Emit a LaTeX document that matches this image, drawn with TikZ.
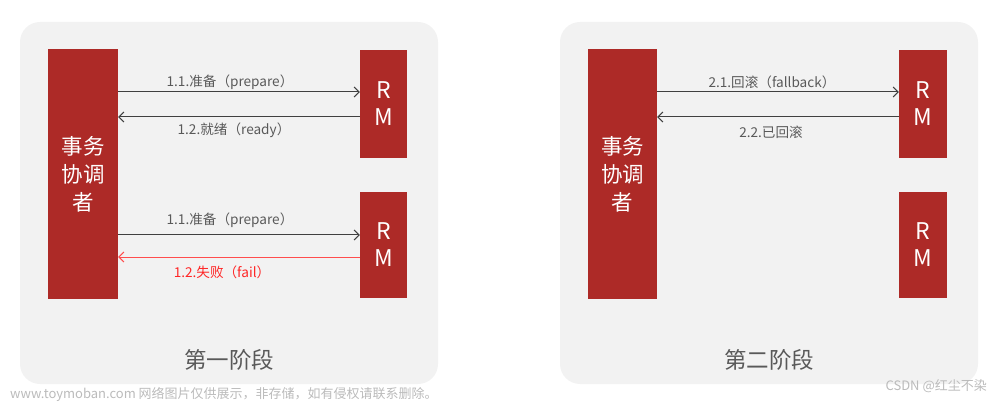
\documentclass[tikz,border=0pt]{standalone}
\usepackage{fontspec}
\setmainfont{Noto Sans CJK SC}
\newfontfamily\cjk{Noto Sans CJK SC}
\usetikzlibrary{arrows.meta}
\definecolor{boxred}{HTML}{AD2A27}
\definecolor{panelbg}{HTML}{F2F2F2}
\definecolor{arrowgrey}{HTML}{404040}
\definecolor{labelgrey}{HTML}{595959}
\definecolor{failred}{HTML}{FF4D4D}
\definecolor{wmgrey}{HTML}{BBBBBB}
\tikzset{
  panel/.style={fill=panelbg, draw=none, rounded corners=20pt},
  redbox/.style={fill=boxred, draw=none, inner sep=0pt, text=white, align=center},
  msg/.style={arrowgrey, line width=1pt, -{Straight Barb[length=5pt,width=10pt,line width=1pt]}},
  failmsg/.style={failred, line width=1pt, -{Straight Barb[length=5pt,width=10pt,line width=1pt]}},
  lbl/.style={text=labelgrey, font=\fontsize{13.6pt}{15pt}\selectfont, inner sep=0pt},
  flbl/.style={text=red!85!white, font=\fontsize{13.6pt}{15pt}\selectfont, inner sep=0pt},
  coordtxt/.style={font=\fontsize{21.5pt}{28pt}\selectfont},
  rmtxt/.style={font=\fontsize{23pt}{27pt}\selectfont},
  title/.style={text=labelgrey, font=\fontsize{22.5pt}{26pt}\selectfont, inner sep=0pt},
  wm/.style={text=wmgrey, font=\fontsize{13pt}{15pt}\selectfont, inner sep=0pt}
}
\begin{document}
\begin{tikzpicture}[x=1pt,y=-1pt]
\useasboundingbox (0,0) rectangle (1000,403);
% panels
\fill[panel] (20,22) rectangle (438,384);
\fill[panel] (560,22) rectangle (978,384);
% left panel boxes
\node[redbox, minimum width=70pt, minimum height=250pt, coordtxt] (tc1) at (83,174) {事务\\协调\\者};
\node[redbox, minimum width=47pt, minimum height=108pt, rmtxt] (rm1) at (383.5,104) {R\\M};
\node[redbox, minimum width=47pt, minimum height=106pt, rmtxt] (rm2) at (383.5,245) {R\\M};
% right panel boxes
\node[redbox, minimum width=69pt, minimum height=250pt, coordtxt] (tc2) at (622.5,174) {事务\\协调\\者};
\node[redbox, minimum width=48pt, minimum height=108pt, rmtxt] (rm3) at (923,104) {R\\M};
\node[redbox, minimum width=48pt, minimum height=106pt, rmtxt] (rm4) at (923,245) {R\\M};
% left arrows
\draw[msg] (tc1.east |- 0,92) -- (rm1.west |- 0,92);
\draw[msg] (rm1.west |- 0,117) -- (tc1.east |- 0,117);
\draw[msg] (tc1.east |- 0,235) -- (rm2.west |- 0,235);
\draw[failmsg] (rm2.west |- 0,257) -- (tc1.east |- 0,257);
\node[lbl] (l11a) at (230,82) {1.1.准备（prepare）};
\node[lbl] (l12a) at (234,130) {1.2.就绪（ready）};
\node[lbl] (l11b) at (230,220) {1.1.准备（prepare）};
\node[flbl] (l12b) at (222,272) {1.2.失败（fail）};
% right arrows
\draw[msg] (tc2.east |- 0,92) -- (rm3.west |- 0,92);
\draw[msg] (rm3.west |- 0,117) -- (tc2.east |- 0,117);
\node[lbl] (l21) at (772,82) {2.1.回滚（fallback）};
\node[lbl] (l22) at (771,132) {2.2.已回滚};
% titles
\node[title] (t1) at (229,360) {第一阶段};
\node[title] (t2) at (769,360) {第二阶段};
% watermarks
\node[wm, anchor=west] (wm1) at (10,394) {www.toymoban.com 网络图片仅供展示，非存储，如有侵权请联系删除。};
\node[wm, anchor=east] (wm2) at (987,386) {CSDN @红尘不染};
\end{tikzpicture}
\end{document}
